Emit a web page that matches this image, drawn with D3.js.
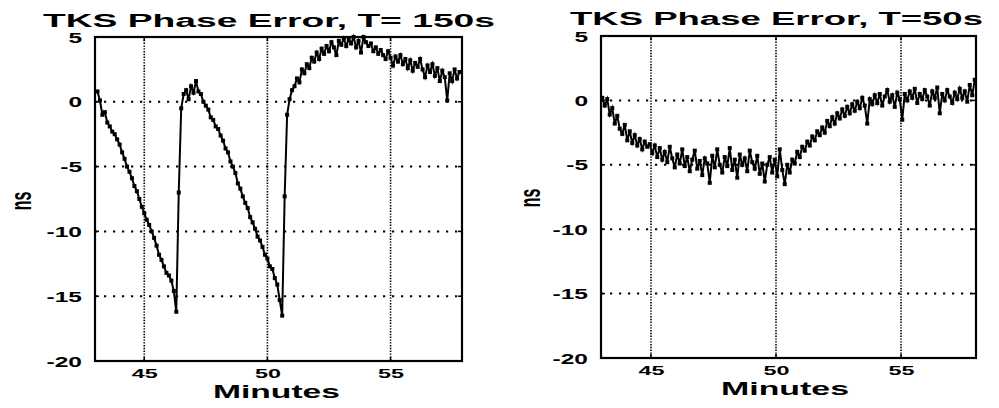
<!DOCTYPE html>
<html><head><meta charset="utf-8">
<script src="https://cdn.jsdelivr.net/npm/d3@7"></script>
<style>html,body{margin:0;padding:0;background:#fff}</style>
</head><body>
<svg id="c" width="999" height="408"></svg>
<script>
// ---------- data ----------
const xTicks = [45, 50, 55];
const yTicks = [5, 0, -5, -10, -15, -20];
const titles = ["TKS Phase Error, T= 150s", "TKS Phase Error, T=50s"];
const xLabel = "Minutes";
const yLabel = "ns";
const sampleStep = 0.1;               // minutes between samples
const leftStart = 43.1;               // minute of first sample, left panel
const rightStart = 43.05;             // minute of first sample, right panel
// T = 150 s : phase error (ns)
const leftValues = [
  0.8, 0.1, -1.0, -0.8, -1.6, -1.9, -2.3, -2.5, -2.9, -3.3,
  -3.9, -4.4, -5.0, -5.4, -5.9, -6.5, -6.9, -7.5, -8.1, -8.6,
  -9.1, -9.5, -10.0, -10.5, -11.1, -11.8, -12.2, -12.7, -13.2, -13.4,
  -13.8, -14.6, -16.2,
  -7.0, -0.5, 0.6, 0.9, 0.2, 1.2, 0.7, 1.6, 0.8, 0.6,
  0.0, -0.3, -0.6, -1.2, -1.4, -1.9, -2.1, -2.6, -3.0, -3.6,
  -3.9, -4.6, -5.0, -5.5, -6.3, -6.7, -7.3, -7.8, -8.2, -8.9,
  -9.3, -9.8, -10.4, -10.7, -11.2, -11.8, -12.1, -12.7, -12.9, -13.6,
  -14.1, -15.3, -16.5,
  -7.3, -1.0, 0.2,
  0.9, 1.2, 1.8, 1.5, 2.5, 2.2, 2.9, 2.6, 3.4, 3.1,
  3.8, 3.3, 4.1, 3.7, 4.3, 3.9, 4.6, 4.2, 3.6, 4.7,
  4.4, 4.9, 4.3, 4.8, 4.5, 5.0, 4.2, 4.7, 3.8, 5.0,
  4.6, 4.3, 4.5, 3.9, 4.2, 3.7, 4.0, 3.6, 3.3, 3.9,
  3.4, 2.8, 3.5, 3.1, 3.6, 2.9, 3.3, 2.6, 3.2, 2.4,
  3.0, 2.7, 3.3, 2.5, 1.9, 2.8, 2.3, 2.9, 2.0, 2.6,
  1.6, 2.4, 1.9, 0.1, 2.2, 1.6, 2.5, 1.8, 2.3
];
// T = 50 s : phase error (ns)
const rightValues = [
  0.2, -0.4, 0.1, -1.1, -0.6, -1.8, -1.2, -2.2, -2.6, -1.9,
  -3.1, -2.4, -3.3, -2.7, -3.5, -3.0, -3.8, -3.2, -3.6, -3.4,
  -4.1, -3.5, -4.4, -3.7, -4.6, -4.0, -4.8, -3.6, -4.5, -5.2,
  -4.2, -4.9, -3.8, -5.1, -4.4, -5.5, -4.6, -3.9, -5.3, -4.7,
  -5.8, -4.5, -4.9, -6.4, -4.3, -5.2, -3.8, -5.0, -5.6, -4.4,
  -5.1, -3.7, -5.4, -4.6, -6.0, -4.2, -5.0, -4.5, -5.5, -3.9,
  -4.8, -5.3, -4.3, -5.7, -4.9, -6.3, -5.0, -4.4, -5.6, -4.6,
  -5.9, -3.8, -5.4, -6.5, -5.0, -5.6, -4.6, -4.9, -4.0, -4.4,
  -3.6, -3.9, -3.2, -3.5, -2.8, -3.1, -2.4, -2.7, -2.1, -2.5,
  -1.6, -2.0, -1.3, -1.8, -1.0, -1.4, -0.7, -1.2, -0.5, -1.0,
  -0.3, -0.8, -0.1, -0.6, 0.2, -0.4, -1.8, 0.1, -0.3, 0.4,
  -0.2, 0.5, -0.4, 0.3, 0.8, -0.1, 0.4, -0.5, 0.6, 0.1,
  -1.5, 0.5, 0.0, 0.7, 0.2, 0.9, -0.2, 0.5, 0.1, 0.8,
  0.3, -0.4, 0.7, 0.2, 1.0, -1.0, 0.5, 0.0, 0.8, 0.3,
  -0.2, 0.6, 0.1, 0.9, 0.2, 0.7, -0.1, 1.2, 0.4, 1.6
];

// ---------- layout ----------
const panels = [
  {values: leftValues, start: leftStart, xDomain: [43, 57.9], l: 95, r: 462, t: 37, b: 361,
   title: titles[0], titleX: 43, titleY: 27, titleLen: 452,
   xlabX: 213, xlabY: 398, xlabLen: 127, ylabX: 31, ylabY: 201},
  {values: rightValues, start: rightStart, xDomain: [43, 58], l: 601, r: 976, t: 36, b: 358,
   title: titles[1], titleX: 570, titleY: 25, titleLen: 413,
   xlabX: 721, xlabY: 395, xlabLen: 128, ylabX: 540, ylabY: 198}
];

const svg = d3.select("#c");
svg.append("rect").attr("width", 999).attr("height", 408).attr("fill", "#fff");
const FONT = "'Liberation Sans', Arial, Helvetica, sans-serif";

panels.forEach(p => {
  const x = d3.scaleLinear().domain(p.xDomain).range([p.l, p.r]);
  const y = d3.scaleLinear().domain([-20, 5]).range([p.b, p.t]);
  const g = svg.append("g");

  // grid
  g.selectAll("line.vg").data(xTicks).join("line").attr("class", "vg")
    .attr("x1", d => x(d)).attr("x2", d => x(d)).attr("y1", p.t).attr("y2", p.b)
    .attr("stroke", "#000").attr("stroke-width", 1.6).attr("stroke-dasharray", "1.4,1.4");
  g.selectAll("line.hg").data(yTicks.filter(d => d > -20 && d < 5)).join("line").attr("class", "hg")
    .attr("x1", p.l).attr("x2", p.r).attr("y1", d => y(d)).attr("y2", d => y(d))
    .attr("stroke", "#000").attr("stroke-width", 2).attr("stroke-dasharray", "2.2,6.8");

  // inner ticks
  const tl = 4;
  yTicks.forEach(v => {
    g.append("line").attr("x1", p.l).attr("x2", p.l + tl).attr("y1", y(v)).attr("y2", y(v)).attr("stroke", "#000").attr("stroke-width", 1.5);
    g.append("line").attr("x1", p.r).attr("x2", p.r - tl).attr("y1", y(v)).attr("y2", y(v)).attr("stroke", "#000").attr("stroke-width", 1.5);
  });
  xTicks.forEach(v => {
    g.append("line").attr("x1", x(v)).attr("x2", x(v)).attr("y1", p.b).attr("y2", p.b - tl).attr("stroke", "#000").attr("stroke-width", 1.5);
    g.append("line").attr("x1", x(v)).attr("x2", x(v)).attr("y1", p.t).attr("y2", p.t + tl).attr("stroke", "#000").attr("stroke-width", 1.5);
  });

  // axes labels via d3 axes
  const ay = g.append("g").attr("transform", `translate(${p.l},0)`)
    .call(d3.axisLeft(y).tickValues(yTicks).tickSize(0).tickFormat(d => String(d)));
  ay.select(".domain").remove();
  ay.selectAll("text").attr("x", null).attr("dy", null)
    .attr("transform", "translate(-13,5) scale(1.75,1)")
    .attr("text-anchor", "end")
    .style("font-family", FONT).style("font-weight", "bold").style("font-size", "14px").attr("fill", "#000");

  const ax = g.append("g").attr("transform", `translate(0,${p.b})`)
    .call(d3.axisBottom(x).tickValues(xTicks).tickSize(0).tickFormat(d => String(d)));
  ax.select(".domain").remove();
  ax.selectAll("text").attr("y", null).attr("dy", null)
    .attr("transform", "translate(0,17) scale(1.8,1)")
    .attr("text-anchor", "middle")
    .style("font-family", FONT).style("font-weight", "bold").style("font-size", "13px").attr("fill", "#000");

  // data trace
  const pts = p.values.map((v, i) => [p.start + i * sampleStep, v]);
  g.append("path").datum(pts)
    .attr("d", d3.line().x(d => x(d[0])).y(d => y(d[1])))
    .attr("fill", "none").attr("stroke", "#000").attr("stroke-width", 2);
  g.selectAll("rect.pt").data(pts).join("rect").attr("class", "pt")
    .attr("x", d => x(d[0]) - 2).attr("y", d => y(d[1]) - 2)
    .attr("width", 4).attr("height", 4).attr("fill", "#000");

  // box
  g.append("rect").attr("x", p.l).attr("y", p.t).attr("width", p.r - p.l).attr("height", p.b - p.t)
    .attr("fill", "none").attr("stroke", "#000").attr("stroke-width", 2.2);

  // title
  svg.append("text").attr("x", p.titleX).attr("y", p.titleY).text(p.title)
    .attr("textLength", p.titleLen).attr("lengthAdjust", "spacingAndGlyphs")
    .style("font-family", FONT).style("font-weight", "bold").style("font-size", "18px");
  // x label
  svg.append("text").attr("x", p.xlabX).attr("y", p.xlabY).text(xLabel)
    .attr("textLength", p.xlabLen).attr("lengthAdjust", "spacingAndGlyphs")
    .style("font-family", FONT).style("font-weight", "bold").style("font-size", "18px");
  // y label (rotated, baseline at ylabX)
  svg.append("text").text(yLabel)
    .attr("transform", `translate(${p.ylabX},${p.ylabY}) scale(1.9,1) rotate(-90)`)
    .attr("text-anchor", "middle")
    .style("font-family", FONT).style("font-weight", "bold").style("font-size", "16px");
});
</script>
</body></html>
